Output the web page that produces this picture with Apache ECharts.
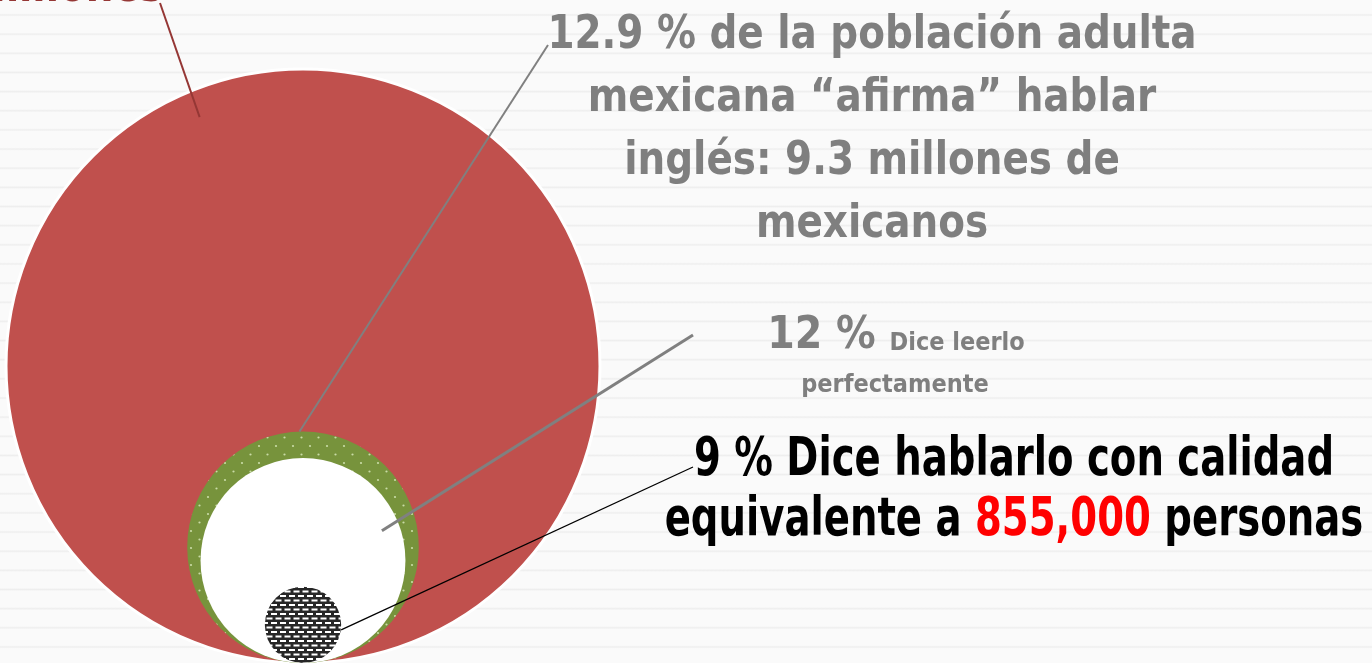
<!DOCTYPE html>
<html>
<head>
<meta charset="utf-8">
<script src="https://cdn.jsdelivr.net/npm/echarts@6/dist/echarts.min.js"></script>
<style>
  html, body { margin: 0; padding: 0; }
  body {
    background-color: #fafafa;
    background-image: repeating-linear-gradient(to bottom,
      #fafafa 0px, #fafafa 13.4px, #eeeeee 15px, #fafafa 16.6px, #fafafa 19.15px);
  }
  #chart { width: 1372px; height: 663px; }
</style>
</head>
<body>
<div id="chart"></div>
<script>
// nested circles, all touching at the bottom; value = share of the area of the big circle (%)
const circleNames = ['Población adulta', 'Afirma hablar inglés', 'Dice leerlo perfectamente', 'Dice hablarlo con calidad'];
const areaShare = [100, 15.2, 11.9, 1.65];

// texts of the callouts
const titleLines = ['12.9 % de la población adulta', 'mexicana “afirma” hablar', 'inglés: 9.3 millones de', 'mexicanos'];
const readPct = '12 % ';
const readText = ['Dice leerlo', 'perfectamente'];
const speakLines = ['9 % Dice hablarlo con calidad', 'equivalente a ', '855,000', ' personas'];
const totalTail = 'millones';

const FONT = "'DejaVu Sans Condensed', 'DejaVu Sans', sans-serif";
const PX = 29.7; // pixels per axis unit (same both ways)
const W = 1372, H = 663;
const anchorX = 303, anchorY = 663;

function makePattern(kind) {
  const c = document.createElement('canvas');
  const ctx = c.getContext('2d');
  if (kind === 'dots') {
    c.width = 17; c.height = 17;
    ctx.fillStyle = '#77933c';
    ctx.fillRect(0, 0, 17, 17);
    ctx.fillStyle = '#c9dba6';
    [[4, 4], [12.5, 12.5]].forEach(([x, y]) => {
      ctx.beginPath(); ctx.arc(x, y, 1.1, 0, Math.PI * 2); ctx.fill();
    });
  } else {
    c.width = 9; c.height = 9;
    ctx.fillStyle = '#262626';
    ctx.fillRect(0, 0, 9, 9);
    ctx.fillStyle = '#ffffff';
    ctx.fillRect(1, 1, 6, 2);
    ctx.fillRect(5.5, 5.5, 6, 2);
    ctx.fillRect(-3.5, 5.5, 6, 2);
  }
  return c;
}

const fills = [
  '#c0504d',
  { image: makePattern('dots'), repeat: 'repeat' },
  '#ffffff',
  { image: makePattern('bricks'), repeat: 'repeat' }
];
const strokes = ['#ffffff', null, null, null];

// leader lines: point on the circle (in radius fractions) -> label point (px)
const leaders = [
  { f: [-0.348, -0.838], to: [160, 3], color: '#953735', width: 2 },
  { f: [-0.03, -1], to: [548, 45], color: '#808080', width: 2 },
  { f: [0.77, -0.29], to: [693, 335], color: '#808080', width: 3 },
  { f: [1, 0.13], to: [693, 467], color: '#000000', width: 1.3 }
];

const chart = echarts.init(document.getElementById('chart'));

const option = {
  animation: false,
  backgroundColor: 'transparent',
  grid: { left: 0, right: 0, top: 0, bottom: 0 },
  xAxis: { type: 'value', min: -anchorX / PX, max: (W - anchorX) / PX, show: false },
  yAxis: { type: 'value', min: -(H - anchorY) / PX, max: anchorY / PX, show: false },
  series: [{
    type: 'custom',
    coordinateSystem: 'cartesian2d',
    data: areaShare.map((v, i) => ({ name: circleNames[i], value: [0, Math.sqrt(v)] })),
    renderItem: function (params, api) {
      const i = params.dataIndex;
      const r = api.size([api.value(1), 0])[0];
      const c = api.coord([0, api.value(1)]);
      const ld = leaders[i];
      return {
        type: 'group',
        children: [
          {
            type: 'circle',
            shape: { cx: c[0], cy: c[1], r: r },
            style: {
              fill: fills[i],
              stroke: strokes[i],
              lineWidth: strokes[i] ? 3 : 0
            }
          },
          {
            type: 'line',
            z2: 10,
            shape: { x1: c[0] + ld.f[0] * r, y1: c[1] + ld.f[1] * r, x2: ld.to[0], y2: ld.to[1] },
            style: { stroke: ld.color, lineWidth: ld.width }
          }
        ]
      };
    }
  }],
  graphic: [
    {
      type: 'text', x: 163, y: 12, scaleX: 0.94,
      style: {
        text: totalTail, font: 'bold 46px ' + FONT, fill: '#953735',
        align: 'right', verticalAlign: 'bottom'
      }
    },
    {
      type: 'text', x: 872, y: 5, scaleX: 0.94,
      style: {
        text: titleLines.join('\n'), font: 'bold 46px ' + FONT, fill: '#7f7f7f',
        align: 'center', verticalAlign: 'top', lineHeight: 63
      }
    },
    {
      type: 'text', x: 896, y: 359,
      style: {
        text: '{big|' + readPct + '}{small|' + readText[0] + '}',
        align: 'center', verticalAlign: 'bottom',
        rich: {
          big: { font: 'bold 44px ' + FONT, fill: '#7f7f7f', verticalAlign: 'bottom' },
          small: { font: 'bold 25px ' + FONT, fill: '#7f7f7f', verticalAlign: 'bottom', padding: [0, 0, 3, 0] }
        }
      }
    },
    {
      type: 'text', x: 895, y: 398,
      style: {
        text: readText[1], font: 'bold 25px ' + FONT, fill: '#7f7f7f',
        align: 'center', verticalAlign: 'bottom'
      }
    },
    {
      type: 'text', x: 1014, y: 431, scaleX: 0.81,
      style: {
        text: speakLines[0] + '\n{b|' + speakLines[1] + '}{r|' + speakLines[2] + '}{b|' + speakLines[3] + '}',
        font: 'bold 53px ' + FONT, fill: '#000000',
        align: 'center', verticalAlign: 'top', lineHeight: 60,
        rich: {
          b: { font: 'bold 53px ' + FONT, fill: '#000000', lineHeight: 60 },
          r: { font: 'bold 53px ' + FONT, fill: '#ff0000', lineHeight: 60 }
        }
      }
    }
  ]
};

chart.setOption(option);
</script>
</body>
</html>
